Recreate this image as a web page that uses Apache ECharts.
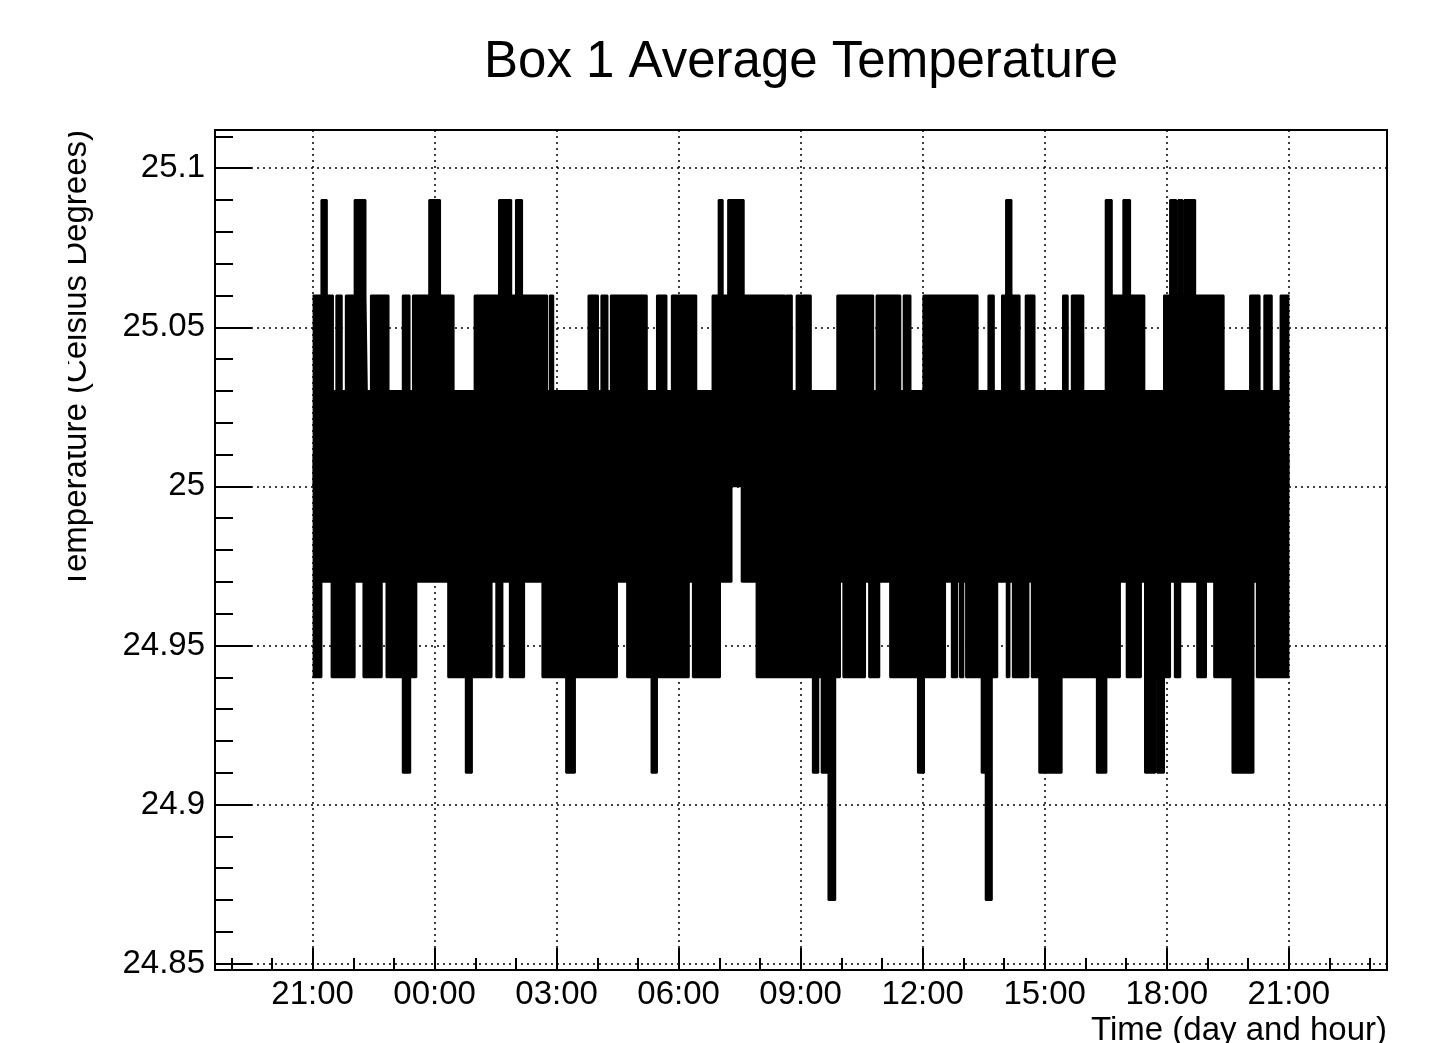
<!DOCTYPE html>
<html>
<head>
<meta charset="utf-8">
<script src="https://cdn.jsdelivr.net/npm/echarts@6/dist/echarts.min.js"></script>
<style>
html,body{margin:0;padding:0;background:#fff;overflow:hidden;width:1445px;height:1043px}
#chart{position:absolute;left:68px;top:0;width:1377px;height:1043px}
</style>
</head>
<body>
<div id="chart"></div>
<script>
// ---- texts ----
const chartTitle = 'Box 1 Average Temperature';
const xAxisTitle = 'Time (day and hour)';
const yAxisTitle = 'Temperature (Celsius Degrees)';

// ---- axes (time in minutes after 21:00 of the first day) ----
const xRange = [-144, 1585];
const yRange = [24.848, 25.112];
const xMajorTicks = [0, 180, 360, 540, 720, 900, 1080, 1260, 1440];
const xTickLabels = ['21:00', '00:00', '03:00', '06:00', '09:00', '12:00', '15:00', '18:00', '21:00'];
const xMinorTicks = [-120, -60, 60, 120, 240, 300, 420, 480, 600, 660, 780, 840, 960, 1020,
                     1140, 1200, 1320, 1380, 1500, 1560];
const yMajorTicks = [24.85, 24.9, 24.95, 25, 25.05, 25.1];
const yMinorTicks = [24.86, 24.87, 24.88, 24.89, 24.91, 24.92, 24.93, 24.94, 24.96, 24.97, 24.98, 24.99,
                     25.01, 25.02, 25.03, 25.04, 25.06, 25.07, 25.08, 25.09, 25.11];

// ---- data: upper and lower envelope of the recorded temperature ----
// [minutes after 21:00, level reached from that time on]
const upperEnvelope = [
  [0,25.06],[13,25.09],[21,25.06],[30,25.03],[35,25.06],[43,25.03],[49,25.06],[62,25.09],
  [78,25.06],[80,25.03],[86,25.06],[112,25.03],[133,25.06],[143,25.03],[148,25.06],[172,25.09],
  [188,25.06],[208,25.03],[239,25.06],[275,25.09],[293,25.06],[300,25.09],[309,25.06],[346,25.03],
  [350,25.06],[355,25.03],[407,25.06],[421,25.03],[426,25.06],[435,25.03],[440,25.06],[493,25.03],
  [508,25.06],[522,25.03],[530,25.06],[566,25.03],[590,25.06],[599,25.09],[605,25.06],[613,25.09],
  [636,25.06],[697,25.03],[699,25.06],[707,25.03],[714,25.06],[735,25.03],[774,25.06],[827,25.03],
  [832,25.06],[867,25.03],[872,25.06],[882,25.03],[901,25.06],[981,25.03],[997,25.06],[1005,25.03],
  [1017,25.06],[1023,25.09],[1031,25.06],[1043,25.03],[1052,25.06],[1065,25.03],[1107,25.06],[1114,25.03],
  [1120,25.06],[1137,25.03],[1170,25.09],[1179,25.06],[1196,25.09],[1206,25.06],[1227,25.03],[1256,25.06],
  [1265,25.09],[1274,25.06],[1277,25.09],[1283,25.06],[1286,25.09],[1302,25.06],[1344,25.03],[1383,25.06],
  [1397,25.03],[1404,25.06],[1415,25.03],[1428,25.06],[1441,25.06]
];
const lowerEnvelope = [
  [0,24.94],[13,24.97],[28,24.94],[62,24.97],[75,24.94],[102,24.97],[109,24.94],[133,24.91],
  [144,24.94],[153,24.97],[200,24.94],[226,24.91],[235,24.94],[264,24.97],[271,24.94],[280,24.97],
  [291,24.94],[312,24.97],[339,24.94],[374,24.91],[387,24.94],[449,24.97],[464,24.94],[500,24.91],
  [508,24.94],[555,24.97],[561,24.94],[601,24.97],[618,25.00],[633,24.97],[655,24.94],[738,24.91],
  [746,24.94],[751,24.91],[761,24.87],[771,24.94],[778,24.97],[783,24.94],[815,24.97],[821,24.94],
  [836,24.97],[852,24.94],[893,24.91],[902,24.94],[933,24.97],[943,24.94],[951,24.97],[955,24.94],
  [960,24.97],[964,24.94],[987,24.91],[993,24.87],[1002,24.94],[1010,24.97],[1024,24.94],[1028,24.97],
  [1033,24.94],[1056,24.97],[1061,24.94],[1072,24.91],[1105,24.94],[1157,24.91],[1171,24.94],[1191,24.97],
  [1201,24.94],[1222,24.97],[1228,24.91],[1243,24.94],[1246,24.91],[1256,24.94],[1265,24.97],[1272,24.94],
  [1280,24.97],[1305,24.94],[1318,24.97],[1330,24.94],[1357,24.91],[1388,24.97],[1393,24.94],[1441,24.94]
];
// the two filled envelopes meet (and slightly overlap) inside the always-covered 24.97..25.03 band
const upperOrigin = 25.00;
const lowerOrigin = 25.01;

const FONT = '"Liberation Sans", Arial, Helvetica, sans-serif';
const gridRect = { left: 147, top: 130, width: 1172, height: 840 };

const chart = echarts.init(document.getElementById('chart'), null, { renderer: 'canvas' });

const envelopeSeries = (name, data, origin) => ({
  name: name,
  type: 'line',
  xAxisIndex: 0,
  yAxisIndex: 0,
  data: data,
  step: 'end',
  showSymbol: false,
  symbol: 'none',
  lineStyle: { color: '#000', width: 2 },
  areaStyle: { color: '#000', opacity: 1, origin: origin },
  emphasis: { disabled: true },
  silent: true
});

chart.setOption({
  animation: false,
  backgroundColor: '#fff',
  title: {
    text: chartTitle,
    left: 416,
    top: 37,
    padding: 0,
    textStyle: { fontFamily: FONT, fontSize: 51, fontWeight: 'normal', color: '#000' }
  },
  grid: [
    Object.assign({ show: true, borderColor: '#000', borderWidth: 2, backgroundColor: 'transparent',
                    containLabel: false, outerBoundsMode: 'none' }, gridRect),
    Object.assign({ show: false, containLabel: false, outerBoundsMode: 'none' }, gridRect)
  ],
  xAxis: [
    {
      type: 'value', gridIndex: 0, min: xRange[0], max: xRange[1],
      axisLine: { show: false, onZero: false },
      axisTick: { show: true, inside: true, length: 22, customValues: xMajorTicks,
                  lineStyle: { color: '#000', width: 2 } },
      axisLabel: { show: true, customValues: xMajorTicks, margin: 8, fontSize: 33, fontFamily: FONT, color: '#000',
                   formatter: v => xTickLabels[xMajorTicks.indexOf(v)] },
      splitLine: { show: true, lineStyle: { color: '#000', width: 1.5, type: [2, 4] } },
      name: xAxisTitle, nameLocation: 'end', nameGap: 0, nameMoveOverlap: false,
      nameTextStyle: { fontFamily: FONT, fontSize: 33, color: '#000', align: 'right', verticalAlign: 'top',
                       padding: [44, 0, 0, 0] }
    },
    {
      type: 'value', gridIndex: 1, min: xRange[0], max: xRange[1],
      axisLine: { show: false, onZero: false },
      axisTick: { show: true, inside: true, length: 12, customValues: xMinorTicks,
                  lineStyle: { color: '#000', width: 2 } },
      axisLabel: { show: false },
      splitLine: { show: false }
    }
  ],
  yAxis: [
    {
      type: 'value', gridIndex: 0, min: yRange[0], max: yRange[1],
      axisLine: { show: false, onZero: false },
      axisTick: { show: true, inside: true, length: 37, customValues: yMajorTicks,
                  lineStyle: { color: '#000', width: 2 } },
      axisLabel: { show: true, customValues: yMajorTicks, margin: 10, fontSize: 33, fontFamily: FONT, color: '#000' },
      splitLine: { show: true, lineStyle: { color: '#000', width: 1.5, type: [2, 4] } },
      name: yAxisTitle, nameLocation: 'end', nameGap: 0, nameRotate: 90, nameMoveOverlap: false,
      nameTextStyle: { fontFamily: FONT, fontSize: 33, color: '#000', align: 'right', verticalAlign: 'bottom',
                       padding: [0, 0, 122, 0] }
    },
    {
      type: 'value', gridIndex: 1, min: yRange[0], max: yRange[1],
      axisLine: { show: false, onZero: false },
      axisTick: { show: true, inside: true, length: 18, customValues: yMinorTicks,
                  lineStyle: { color: '#000', width: 2 } },
      axisLabel: { show: false },
      splitLine: { show: false }
    }
  ],
  series: [
    envelopeSeries('upper', upperEnvelope, upperOrigin),
    envelopeSeries('lower', lowerEnvelope, lowerOrigin)
  ]
});
</script>
</body>
</html>
